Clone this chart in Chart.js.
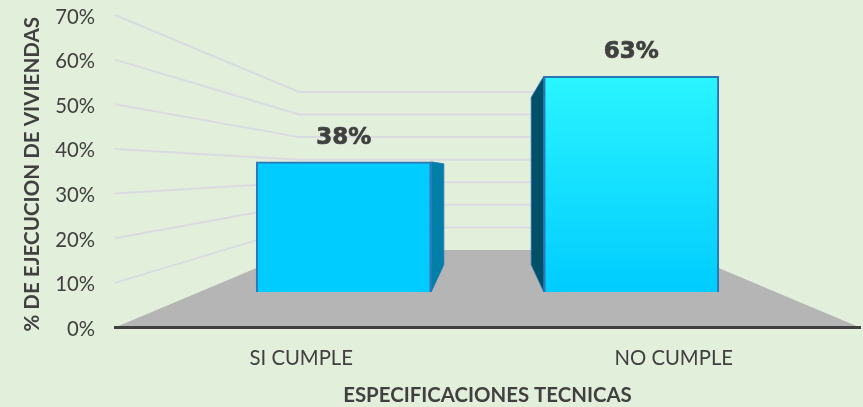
<!DOCTYPE html>
<html>
<head>
<meta charset="utf-8">
<style>
html,body{margin:0;padding:0;background:#E2EFDA;}
canvas{display:block;}
</style>
<script src="https://cdn.jsdelivr.net/npm/chart.js@4"></script>
</head>
<body>
<canvas id="c" width="863" height="407"></canvas>
<script>
const categories = ["SI CUMPLE", "NO CUMPLE"];
const values = [38, 63];
const valueLabels = ["38%", "63%"];
const yMax = 70;
const yStep = 10;
const yTitle = "% DE EJECUCION DE VIVIENDAS";
const xTitle = "ESPECIFICACIONES TECNICAS";

const TEXT = "#404040";
const faceTop = ["#00CCFF", "#2AF5FF"];
const faceBottom = ["#00CCFF", "#00CCFF"];
const sideColors = ["#007FA8", "#005068"];
const EDGE = "#2E75B6";
const FLOOR = "#B5B5B5";
const WALL = "#D9DBE2";
const FONT = "Lato, Carlito, sans-serif";

// perspective of the 3-D box: depth factors relative to the front plane
const vpRel = 0.5018;     // vanishing point height above the floor, share of plot height
const kBack = 0.5056;     // back wall
const kBar = 0.767;       // bar front faces
const kBarBack = 0.595;   // bar back faces
const kBarX = 0.772;      // horizontal spread of the bars
const barShift = 0.29;    // fine placement of the bar plane, in value units

const barYMin = -vpRel * (1 - kBar) * yMax / kBar + barShift;
const barYMax = barYMin + yMax / kBar;

function vp(chart) {
  const a = chart.chartArea;
  return { x: (a.left + a.right) / 2, y: a.bottom - vpRel * (a.bottom - a.top) };
}
function proj(v, x, y, k) {
  return [v.x + (x - v.x) * k, v.y + (y - v.y) * k];
}
function poly(ctx, pts, fill, stroke, lw) {
  ctx.beginPath();
  pts.forEach((p, i) => i ? ctx.lineTo(p[0], p[1]) : ctx.moveTo(p[0], p[1]));
  ctx.closePath();
  ctx.fillStyle = fill;
  ctx.fill();
  if (stroke) { ctx.strokeStyle = stroke; ctx.lineWidth = lw; ctx.stroke(); }
}

const boxPlugin = {
  id: "box3d",
  afterLayout(chart) {
    // nudge the y-axis title a little below the plot's centre
    const s = chart.scales.y;
    if (!s.__nudged) {
      const orig = s.drawTitle.bind(s);
      s.drawTitle = function () {
        chart.ctx.save();
        chart.ctx.translate(0, 3);
        orig();
        chart.ctx.restore();
      };
      s.__nudged = true;
    }
  },
  beforeDraw(chart) {
    const { ctx, chartArea: a } = chart;
    const yS = chart.scales.y;
    const v = vp(chart);
    ctx.save();
    ctx.fillStyle = "#E2EFDA";
    ctx.fillRect(0, 0, chart.width, chart.height);
    // receding grid on the left wall and the back wall
    ctx.strokeStyle = WALL;
    ctx.lineWidth = 2;
    for (const t of yS.ticks) {
      if (t.value === 0) continue;
      const py = yS.getPixelForValue(t.value);
      const b = proj(v, a.left, py, kBack);
      const r = proj(v, a.right, py, kBack);
      ctx.beginPath();
      ctx.moveTo(a.left, py);
      ctx.lineTo(b[0], b[1]);
      ctx.lineTo(r[0], r[1]);
      ctx.stroke();
    }
    // floor
    const y0 = yS.getPixelForValue(0);
    poly(ctx, [[a.left, y0], proj(v, a.left, y0, kBack), proj(v, a.right, y0, kBack), [a.right, y0]], FLOOR);
    ctx.restore();
  },
  beforeDatasetsDraw(chart) {
    const { ctx } = chart;
    const v = vp(chart);
    ctx.save();
    chart.getDatasetMeta(0).data.forEach((el, i) => {
      const p = el.getProps(["x", "y", "base", "width"], true);
      const ex = p.x < v.x ? p.x + p.width / 2 : p.x - p.width / 2;
      const f = kBarBack / kBar;
      poly(ctx, [[ex, p.y], proj(v, ex, p.y, f), proj(v, ex, p.base, f), [ex, p.base]], sideColors[i], EDGE, 0.8);
    });
    ctx.restore();
  },
  afterDatasetsDraw(chart) {
    const { ctx } = chart;
    ctx.save();
    ctx.fillStyle = TEXT;
    ctx.strokeStyle = TEXT;
    ctx.lineWidth = 0.7;
    ctx.font = "bold 23px 'DejaVu Sans'";
    ctx.textAlign = "center";
    ctx.textBaseline = "middle";
    chart.getDatasetMeta(0).data.forEach((el, i) => {
      const p = el.getProps(["x", "y"], true);
      ctx.fillText(valueLabels[i], p.x, p.y - 24);
      ctx.strokeText(valueLabels[i], p.x, p.y - 24);
    });
    ctx.restore();
  }
};

function faceFill(c) {
  const chart = c.chart;
  if (!chart.chartArea || c.dataIndex === undefined) return faceBottom[0];
  const i = c.dataIndex;
  const s = chart.scales.yBar;
  const g = chart.ctx.createLinearGradient(0, s.getPixelForValue(values[i]), 0, s.getPixelForValue(0));
  g.addColorStop(0, faceTop[i]);
  g.addColorStop(1, faceBottom[i]);
  return g;
}

new Chart(document.getElementById("c"), {
  type: "bar",
  data: {
    datasets: [{
      data: values.map((v, i) => ({ x: i, y: v })),
      xAxisID: "xBar",
      yAxisID: "yBar",
      backgroundColor: faceFill,
      borderColor: EDGE,
      borderWidth: 2,
      barThickness: 175
    }]
  },
  options: {
    responsive: false,
    animation: false,
    events: [],
    layout: { padding: { top: 15, left: 0, right: 3, bottom: 0 } },
    plugins: { legend: { display: false }, tooltip: { enabled: false } },
    scales: {
      x: {
        type: "category",
        labels: categories,
        position: "bottom",
        grid: { display: false, drawTicks: false },
        border: { display: true, color: TEXT, width: 3, z: 1 },
        ticks: { color: TEXT, font: { family: FONT, size: 20.3 }, padding: 19, maxRotation: 0 },
        title: { display: true, text: xTitle, color: TEXT, font: { family: FONT, size: 20.4, weight: "bold", lineHeight: 1.1 }, padding: { top: 0, bottom: 0 } },
        afterFit(s) { s.height = 79.5; s.paddingLeft = 0; s.paddingRight = 0; }
      },
      y: {
        type: "linear",
        position: "left",
        min: 0,
        max: yMax,
        grid: { display: false, drawTicks: false },
        border: { display: false },
        ticks: { stepSize: yStep, color: TEXT, font: { family: FONT, size: 20.3 }, padding: 20, labelOffset: 2, callback: v => v + "%" },
        title: { display: true, text: yTitle, color: TEXT, font: { family: FONT, size: 20.6, weight: "bold" }, padding: { top: 20, bottom: 0 } },
        afterFit(s) { s.width = 115; s.paddingTop = 0; s.paddingBottom = 0; }
      },
      xBar: { type: "linear", display: false, min: 0.5 - 1 / kBarX, max: 0.5 + 1 / kBarX, offset: false },
      yBar: { type: "linear", display: false, min: barYMin, max: barYMax }
    }
  },
  plugins: [boxPlugin]
});
</script>
</body>
</html>
